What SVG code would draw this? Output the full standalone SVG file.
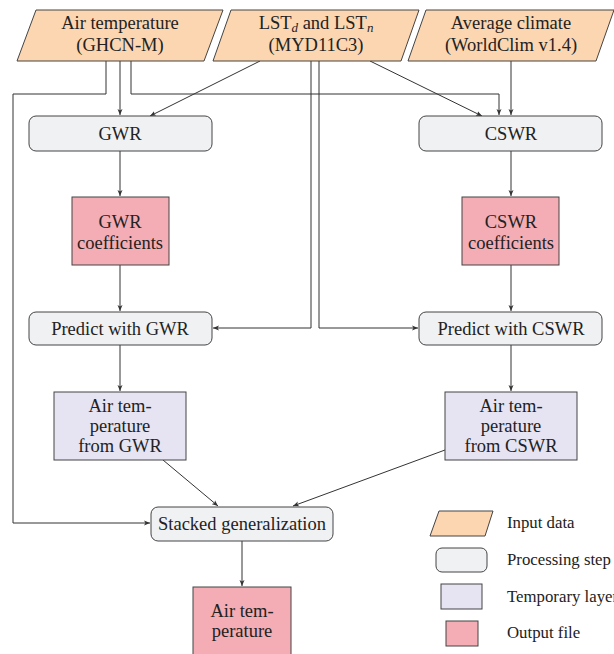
<svg xmlns="http://www.w3.org/2000/svg" width="614" height="654" viewBox="0 0 614 654" font-family="Liberation Serif, Times New Roman, serif">
<style>
text{font-size:18.5px;fill:#222;text-anchor:middle}
.lg{text-anchor:start;font-size:16.8px}
.inp{fill:#FCD6B0;stroke:#444;stroke-width:1}
.proc{fill:#F0F1F3;stroke:#444;stroke-width:1}
.tmp{fill:#E6E4F3;stroke:#444;stroke-width:1}
.out{fill:#F4ADB5;stroke:#444;stroke-width:1}
.c{fill:none;stroke:#333;stroke-width:1}
.a{marker-end:url(#ah)}
</style>
<defs>
<marker id="ah" markerUnits="userSpaceOnUse" markerWidth="8" markerHeight="6" refX="6" refY="3" orient="auto">
<path d="M0,0.5 L6,3 L0,5.5 L1.5,3 Z" fill="#333"/>
</marker>
</defs>
<rect width="614" height="654" fill="#fff"/>
<g id="connectors">
<path class="c a" d="M106,61 V94 H13 V523 H150"/>
<path class="c a" d="M120,61 V115"/>
<path class="c a" d="M131,61 V94 H499 V115"/>
<path class="c a" d="M260,61 L150,116"/>
<path class="c a" d="M370,61 L482,116"/>
<path class="c a" d="M311,61 V328 H213"/>
<path class="c a" d="M319,61 V328 H418"/>
<path class="c a" d="M511,61 V115"/>
<path class="c a" d="M120,151 V196"/>
<path class="c a" d="M511,151 V196"/>
<path class="c a" d="M120,265 V311"/>
<path class="c a" d="M511,265 V311"/>
<path class="c a" d="M120,345 V391"/>
<path class="c a" d="M511,345 V391"/>
<path class="c a" d="M163,460 L218,506"/>
<path class="c a" d="M445,450 L293,506"/>
<path class="c a" d="M242,541 V586"/>
</g>
<g id="n-airtemp">
<polygon class="inp" points="36,10 223,10 204,61 17,61"/>
<text x="120" y="29">Air temperature</text>
<text x="120" y="51">(GHCN-M)</text>
</g>
<g id="n-lst">
<polygon class="inp" points="231,10 419,10 401,61 213,61"/>
<text x="316" y="29">LST<tspan font-size="13" dy="3" font-style="italic">d</tspan><tspan dy="-3"> and LST</tspan><tspan font-size="13" dy="3" font-style="italic">n</tspan></text>
<text x="316" y="51">(MYD11C3)</text>
</g>
<g id="n-climate">
<polygon class="inp" points="426,10 614,10 596,61 408,61"/>
<text x="511" y="29">Average climate</text>
<text x="511" y="51">(WorldClim v1.4)</text>
</g>
<g id="n-gwr">
<rect class="proc" x="29" y="116" width="183" height="35" rx="7"/>
<text x="120" y="140">GWR</text>
</g>
<g id="n-cswr">
<rect class="proc" x="419" y="116" width="183" height="35" rx="7"/>
<text x="511" y="140">CSWR</text>
</g>
<g id="n-gwrcoef">
<rect class="out" x="72" y="197" width="97" height="68"/>
<text x="120" y="228">GWR</text>
<text x="120" y="249">coefficients</text>
</g>
<g id="n-cswrcoef">
<rect class="out" x="462" y="197" width="97" height="68"/>
<text x="511" y="228">CSWR</text>
<text x="511" y="249">coefficients</text>
</g>
<g id="n-predgwr">
<rect class="proc" x="29" y="312" width="183" height="33" rx="7"/>
<text x="120" y="335">Predict with GWR</text>
</g>
<g id="n-predcswr">
<rect class="proc" x="419" y="312" width="183" height="33" rx="7"/>
<text x="511" y="335">Predict with CSWR</text>
</g>
<g id="n-tmpgwr">
<rect class="tmp" x="54" y="392" width="132" height="68"/>
<text x="120" y="412">Air tem-</text>
<text x="120" y="432">perature</text>
<text x="120" y="452">from GWR</text>
</g>
<g id="n-tmpcswr">
<rect class="tmp" x="445" y="392" width="132" height="68"/>
<text x="511" y="412">Air tem-</text>
<text x="511" y="432">perature</text>
<text x="511" y="452">from CSWR</text>
</g>
<g id="n-stack">
<rect class="proc" x="151" y="507" width="182" height="34" rx="7"/>
<text x="242" y="530">Stacked generalization</text>
</g>
<g id="n-output">
<rect class="out" x="193" y="587" width="98" height="80"/>
<text x="242" y="617">Air tem-</text>
<text x="242" y="637">perature</text>
</g>
<g id="legend">
<polygon class="inp" points="439,511 493,511 485,536 430,536"/>
<text class="lg" x="507" y="528">Input data</text>
<rect class="proc" x="436" y="548" width="51" height="24" rx="6"/>
<text class="lg" x="507" y="565">Processing step</text>
<rect class="tmp" x="441" y="584" width="41" height="25"/>
<text class="lg" x="507" y="602">Temporary layer</text>
<rect class="out" x="446" y="621" width="32" height="25"/>
<text class="lg" x="507" y="638">Output file</text>
</g>
</svg>
